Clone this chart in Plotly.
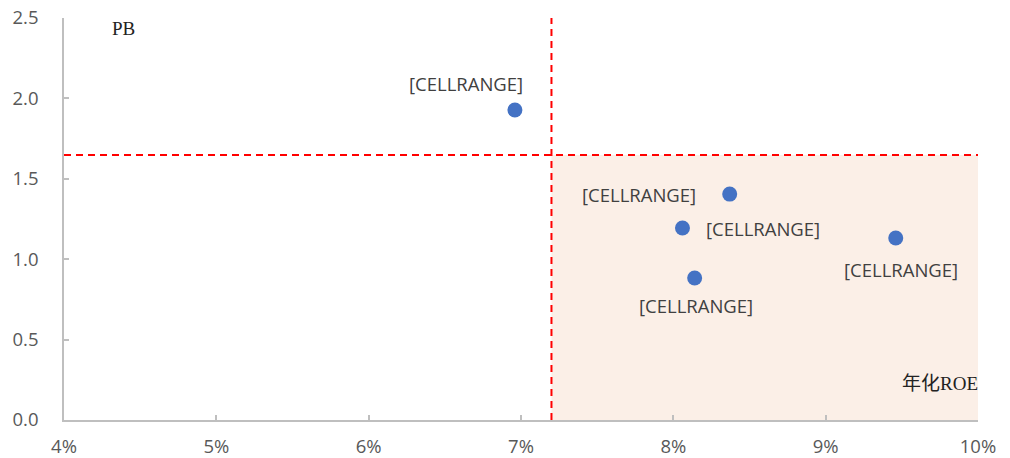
import plotly.graph_objects as go

# Annualised ROE (fraction) vs PB for each holding
roe = [0.0696, 0.0837, 0.0806, 0.0814, 0.0946]
pb = [1.928, 1.405, 1.194, 0.883, 1.132]
labels = ["[CELLRANGE]"] * 5
# label offsets relative to each point (pixels, +dy = down)
label_dx = [-49, -91, 81, 1, 5]
label_dy = [-26, 0, 0, 27, 32]

roe_cut = 0.072
pb_cut = 1.648

x_ticks = [0.04, 0.05, 0.06, 0.07, 0.08, 0.09, 0.10]
y_ticks = [0.0, 0.5, 1.0, 1.5, 2.0, 2.5]

fig = go.Figure()

# shaded quadrant: high ROE, low PB
fig.add_shape(type="rect", x0=roe_cut, x1=0.10, y0=0, y1=pb_cut,
              fillcolor="#FBEFE7", line_width=0, layer="below")
# threshold lines
fig.add_shape(type="line", x0=0.04, x1=0.10, y0=pb_cut, y1=pb_cut,
              line=dict(color="#FF0000", width=2, dash="7px,5px"))
fig.add_shape(type="line", x0=roe_cut, x1=roe_cut, y0=0, y1=2.53,
              line=dict(color="#FF0000", width=2, dash="7px,5px"))

fig.add_trace(go.Scatter(
    x=roe, y=pb, mode="markers",
    marker=dict(color="#4472C4", size=15, line_width=0),
    hoverinfo="skip", showlegend=False, cliponaxis=False,
))

for xv, yv, t, dx, dy in zip(roe, pb, labels, label_dx, label_dy):
    fig.add_annotation(x=xv, y=yv, text=t, showarrow=False,
                       xshift=dx, yshift=-dy,
                       font=dict(family="Open Sans, Noto Sans, sans-serif",
                                 size=18.5, color="#404040"))

fig.add_annotation(x=0.04, y=2.5, xref="x", yref="y", text="PB",
                   showarrow=False, xanchor="left", yanchor="top",
                   xshift=46, yshift=2,
                   font=dict(family="Liberation Serif, Noto Sans CJK SC, serif",
                             size=19, color="#222222"))
fig.add_annotation(x=0.10, y=0, xref="x", yref="y", text="年化ROE",
                   showarrow=False, xanchor="right", yanchor="bottom",
                   xshift=2, yshift=24,
                   font=dict(family="Liberation Serif, Noto Sans CJK SC, serif",
                             size=19, color="#222222"))

axis_common = dict(
    showgrid=False, zeroline=False, showline=True, automargin=False,
    linecolor="#BFBFBF", linewidth=1.5,
    ticks="inside", ticklen=5, tickcolor="#BFBFBF", tickwidth=1.5,
    tickfont=dict(family="Open Sans, Noto Sans, sans-serif", size=18.5, color="#595959"),
)

fig.update_xaxes(range=[0.04, 0.10], tickvals=x_ticks, tickformat=".0%",
                 ticklabelstandoff=9, **axis_common)
fig.update_yaxes(range=[0, 2.5], tickvals=y_ticks, tickformat=".1f",
                 ticklabelstandoff=20, **axis_common)

fig.update_layout(
    width=1010, height=458,
    margin=dict(l=64, r=32, t=18, b=38),
    plot_bgcolor="white", paper_bgcolor="white",
)

fig.write_html("out.html")
